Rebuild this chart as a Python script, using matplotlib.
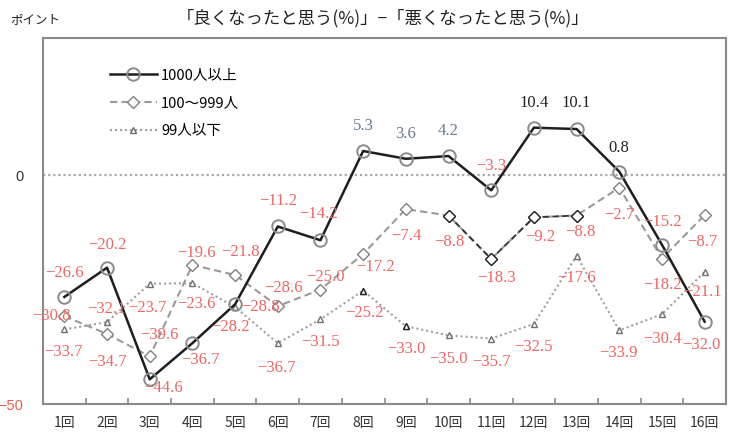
import numpy as np
import matplotlib
matplotlib.use("Agg")
import matplotlib.pyplot as plt
from matplotlib.ticker import FixedLocator

# ---- data ----
rounds = ["1回", "2回", "3回", "4回", "5回", "6回", "7回", "8回",
          "9回", "10回", "11回", "12回", "13回", "14回", "15回", "16回"]
large = [-26.6, -20.2, -44.6, -36.7, -28.2, -11.2, -14.2, 5.3,
         3.6, 4.2, -3.3, 10.4, 10.1, 0.8, -15.2, -32.0]
medium = [-30.8, -34.7, -39.6, -19.6, -21.8, -28.6, -25.0, -17.2,
          -7.4, -8.8, -18.3, -9.2, -8.8, -2.7, -18.2, -8.7]
small = [-33.7, -32.1, -23.7, -23.6, -28.8, -36.7, -31.5, -25.2,
         -33.0, -35.0, -35.7, -32.5, -17.6, -33.9, -30.4, -21.1]
series_names = ["1000人以上", "100〜999人", "99人以下"]
title = "「良くなったと思う(%)」−「悪くなったと思う(%)」"
ylabel = "ポイント"
ytick_vals = [0, -50]

# ---- label placement (pixel offsets from each point) ----
off_large = [(0, 24), (0, 23), (14, -9), (8, -17), (-5, -23), (0, 25), (-2, 26), (0, 25),
             (0, 25), (0, 25), (0, 24), (0, 25), (0, 26), (0, 24), (0, 23), (-3, -23)]
off_medium = [(-13, 0), (0, -28), (10, 21), (4, 12), (5, 23), (6, 18), (5, 13), (12, -13),
              (0, -27), (1, -26), (5, -19), (6, -20), (4, -16), (0, -27), (0, -26), (-2, -27)]
off_small = [(-1, -23), (-1, 13), (-2, -24), (4, -21), (25, 0), (-1, -25), (0, -23), (1, -22),
             (0, -23), (0, -24), (0, -23), (-1, -23), (0, -22), (-1, -23), (0, -25), (-2, -20)]

RED = "#f06464"
GREY_LBL = "#6a7890"
BLACK_LBL = "#222222"

def label_color(v, i, series):
    if v < 0:
        return RED
    if series == 0 and i in (7, 8, 9):
        return GREY_LBL
    return BLACK_LBL

def fmt(v):
    s = f"{abs(v):.1f}"
    return ("\u2212" + s) if v < 0 else s

cjk = ["Noto Sans CJK JP", "DejaVu Sans"]
num_font = ["Liberation Serif", "DejaVu Serif"]

fig = plt.figure(figsize=(7.33, 4.32), dpi=100)
ax = fig.add_axes([43 / 733, 1 - 404 / 432, (726 - 43) / 733, (404 - 38) / 432])

x = np.arange(1, len(rounds) + 1)
ax.set_xlim(0.5, len(rounds) + 0.5)
ax.set_ylim(-50, 30)

# zero line
ax.axhline(0, color="#a8a8a8", lw=1.6, linestyle=(0, (1, 1.3)), zorder=1)

# series
l3, = ax.plot(x, small, color="#a0a0a0", lw=1.5, linestyle=(0, (1, 1.4)),
              marker="^", markersize=5, markerfacecolor="white",
              markeredgecolor="#707070", markeredgewidth=1.0, zorder=2)
ax.plot(x[7:9], np.array(small)[7:9], linestyle="none", marker="^", markersize=5,
        markerfacecolor="white", markeredgecolor="#222222", markeredgewidth=1.0, zorder=2.1)

l2, = ax.plot(x, medium, color="#9a9a9a", lw=1.5, linestyle=(0, (3.5, 2)),
              marker="D", markersize=6, markerfacecolor="white",
              markeredgecolor="#808080", markeredgewidth=1.0, zorder=3)
ax.plot(x[9:13], np.array(medium)[9:13], color="#333333", lw=1.3, linestyle=(0, (3.5, 2)),
        marker="D", markersize=6, markerfacecolor="white",
        markeredgecolor="#222222", markeredgewidth=1.0, zorder=3.1)

l1, = ax.plot(x, large, color="#1e1e1e", lw=1.8, linestyle="-",
              marker="o", markersize=9, markerfacecolor="none",
              markeredgecolor="#8a8a8a", markeredgewidth=1.4, zorder=4)

# data labels
for s, (vals, offs) in enumerate([(large, off_large), (medium, off_medium), (small, off_small)]):
    for i, (v, o) in enumerate(zip(vals, offs)):
        ax.annotate(fmt(v), (x[i], v), xytext=o, textcoords="offset pixels",
                    ha="center", va="center", fontsize=12, family=num_font,
                    color=label_color(v, i, s), zorder=5)

# axes styling
for sp in ax.spines.values():
    sp.set_color("#8a8a8a")
    sp.set_linewidth(1.5)

ax.set_xticks(x)
ax.set_xticklabels(rounds, family=cjk, fontsize=10, color="#333333")
ax.xaxis.set_minor_locator(FixedLocator(np.arange(1.5, len(rounds), 1.0)))
ax.tick_params(axis="x", which="major", length=0, pad=9)
ax.tick_params(axis="x", which="minor", direction="in", length=4, color="#8a8a8a", width=1.2)

ax.set_yticks(ytick_vals)
ax.set_yticklabels(["0", "\u221250"], family=["Liberation Sans", "DejaVu Sans"], fontsize=10.5)
ax.tick_params(axis="y", length=0, pad=14)
ax.get_yticklabels()[0].set_color("#333333")
ax.get_yticklabels()[1].set_color("#e8604a")

# legend
leg = ax.legend([l1, l2, l3], series_names, loc="upper left",
                bbox_to_anchor=((110 - 43) / 683, 1 - (68 - 38) / 366),
                frameon=False, prop={"family": cjk, "size": 10.5},
                handlelength=3.2, handletextpad=0.3, labelspacing=0.95,
                borderpad=0, borderaxespad=0)

# title and unit
fig.text(383 / 733, 1 - 18 / 432, title, ha="center", va="center",
         fontsize=12.5, family=cjk, color="#222222")
fig.text(10 / 733, 1 - 20 / 432, ylabel, ha="left", va="center",
         fontsize=9, family=cjk, color="#222222")

fig.savefig("out.png", dpi=100)
